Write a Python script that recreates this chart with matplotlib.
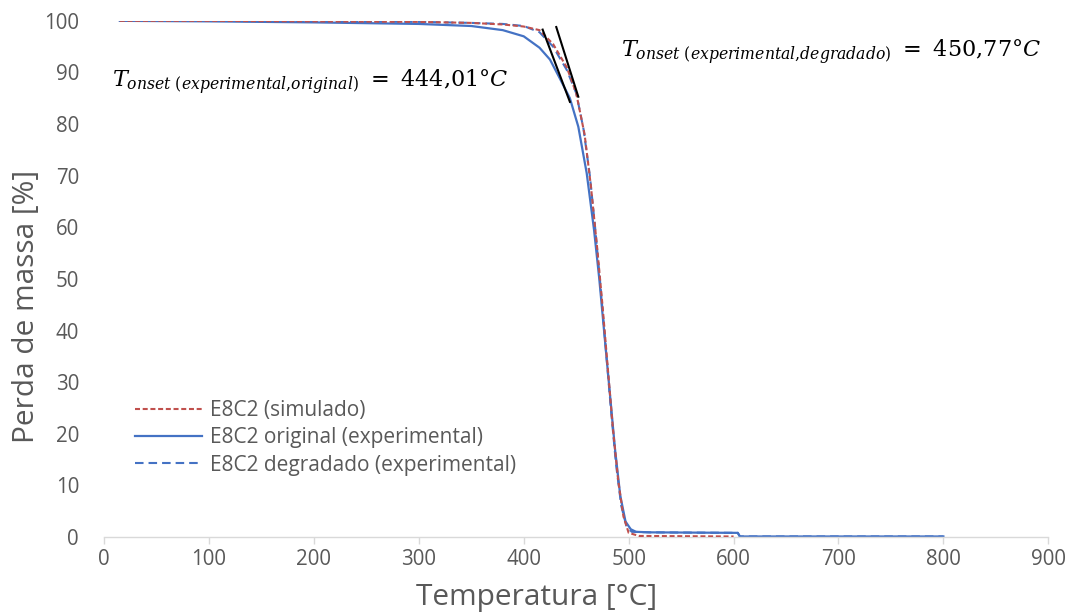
import matplotlib
matplotlib.use("Agg")
import matplotlib.pyplot as plt

# ---- data ----
T_sim = [15, 100, 200, 300, 350, 380, 400, 415, 428, 441, 450, 458, 464, 470, 475, 480, 485, 490, 495, 500, 510, 600]
m_sim = [100, 100, 99.9, 99.8, 99.6, 99.3, 98.9, 98.2, 95.5, 91, 86, 78, 68, 56, 45, 33, 21, 11, 4, 0.8, 0.2, 0.1]

T_orig = [15, 100, 200, 300, 350, 380, 400, 415, 425, 435, 444, 452, 460, 467, 472, 477, 482, 487, 492, 497, 502, 507, 520, 560, 604, 606, 700, 800]
m_orig = [100, 99.9, 99.7, 99.4, 99.0, 98.2, 97.0, 94.8, 92.5, 88.6, 85.0, 79.5, 70.5, 59.5, 50, 39, 28, 17, 8, 3, 1.5, 1.0, 0.9, 0.85, 0.8, 0.1, 0.1, 0.1]

T_deg = [15, 100, 200, 300, 350, 380, 400, 415, 428, 441, 450, 457, 463, 468, 473, 478, 483, 488, 493, 498, 503, 520, 560, 604, 606, 700, 800]
m_deg = [100, 100, 99.9, 99.8, 99.6, 99.4, 99.0, 97.8, 95.0, 90.5, 86.0, 79, 70, 60, 49, 37, 25, 14, 6, 2, 1.0, 0.9, 0.85, 0.8, 0.1, 0.1, 0.1]

tan_orig_T = [418, 444]
tan_orig_m = [98.3, 84.3]
tan_deg_T = [431, 452]
tan_deg_m = [98.8, 85.3]

labels = ["E8C2 (simulado)", "E8C2 original (experimental)", "E8C2 degradado (experimental)"]
xticks = list(range(0, 901, 100))
yticks = list(range(0, 101, 10))

# ---- style ----
plt.rcParams['font.family'] = ['Open Sans', 'DejaVu Sans']
plt.rcParams['mathtext.fontset'] = 'dejavuserif'
gray = '#595959'
red = '#C0504D'
blue = '#4472C4'

fig = plt.figure(figsize=(10.73, 6.13), dpi=100)
ax = fig.add_axes([0.097, 0.124, 0.880, 0.842])

ax.plot(T_sim, m_sim, color=red, lw=1.5, ls=(0, (2.4, 1.3)), label=labels[0], zorder=3)
ax.plot(T_orig, m_orig, color=blue, lw=1.6, ls='-', label=labels[1], zorder=2)
ax.plot(T_deg, m_deg, color=blue, lw=1.5, ls=(0, (4.1, 2.4)), label=labels[2], zorder=2)

ax.plot(tan_orig_T, tan_orig_m, color='black', lw=1.5, zorder=4)
ax.plot(tan_deg_T, tan_deg_m, color='black', lw=1.5, zorder=4)

ax.set_xlim(0, 900)
ax.set_ylim(0, 100)
ax.set_xticks(xticks)
ax.set_yticks(yticks)
ax.tick_params(axis='x', colors='#D9D9D9', labelcolor=gray, labelsize=14.8, length=5, width=1, pad=4)
ax.tick_params(axis='y', length=0, labelcolor=gray, labelsize=14.8, pad=18)
for s in ['top', 'right', 'left']:
    ax.spines[s].set_visible(False)
ax.spines['bottom'].set_color('#D9D9D9')
ax.spines['bottom'].set_linewidth(1)

fig.text(0.5, 1 - 597 / 613, "Temperatura [°C]", fontsize=21.5, color=gray, ha='center', va='center')
fig.text(27 / 1073, 0.5, "Perda de massa [%]", fontsize=21.5, color=gray, ha='center', va='center',
         rotation=90)

ax.text(7.6, 87.2, r'$T_{onset\ \mathrm{(}experimental{,}original\mathrm{)}}\ =\ \mathrm{444{,}01°}C$',
        fontsize=16.1, va='baseline', ha='left', color='black')
ax.text(493, 93.0, r'$T_{onset\ \mathrm{(}experimental{,}degradado\mathrm{)}}\ =\ \mathrm{450{,}77°}C$',
        fontsize=16.1, va='baseline', ha='left', color='black')

leg = ax.legend(loc='center left', bbox_to_anchor=(0.033, 0.192), frameon=False,
                fontsize=15, labelcolor=gray, handlelength=3.2, handletextpad=0.4,
                labelspacing=0.3, borderaxespad=0, borderpad=0)

fig.savefig('out.png', dpi=100)
